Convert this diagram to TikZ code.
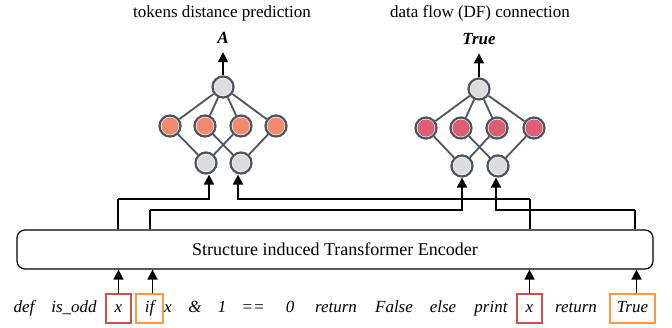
\documentclass[tikz,border=0pt]{standalone}
\usepackage{fontspec}
\setmainfont{Liberation Serif}
\usetikzlibrary{arrows.meta}
\definecolor{edgegray}{HTML}{4A5560}
\definecolor{nodegray}{HTML}{DCDCDC}
\definecolor{nodeorange}{HTML}{F28B6E}
\definecolor{nodered}{HTML}{DE5D70}
\definecolor{boxred}{HTML}{C0564D}
\definecolor{boxorange}{HTML}{F79A4A}
\tikzset{
  netnode/.style={circle, draw=edgegray, line width=2.2pt, minimum size=21pt, inner sep=0pt, fill=white},
  graynode/.style={netnode, path picture={\fill[nodegray] (path picture bounding box.center) circle (8.6pt);}},
  orangenode/.style={netnode, path picture={\fill[nodeorange] (path picture bounding box.center) circle (8.6pt);}},
  rednode/.style={netnode, path picture={\fill[nodered] (path picture bounding box.center) circle (8.6pt);}},
  netedge/.style={draw=edgegray, line width=1.8pt},
  arr/.style={-{Triangle[length=10pt,width=10pt]}, line width=1.6pt, black},
  conn/.style={line width=1.4pt, black},
  tok/.style={font=\itshape\fontsize{17}{20}\selectfont, text height=12pt, text depth=4pt, inner sep=0pt, anchor=center},
  tokred/.style={tok, draw=boxred, line width=1.6pt, minimum width=25pt, minimum height=29pt},
  tokorange/.style={tok, draw=boxorange, line width=1.6pt, minimum height=29pt},
  title/.style={font=\fontsize{17}{20}\selectfont, anchor=base},
  outlbl/.style={font=\bfseries\itshape\fontsize{17}{20}\selectfont, anchor=base, inner sep=1pt}
}
\begin{document}
\begin{tikzpicture}[x=1pt,y=-1pt]
\useasboundingbox (0,0) rectangle (672,327);

% titles
\node[title] (t1) at (222,17.5) {tokens distance prediction};
\node[title] (t2) at (480,17.5) {data flow (DF) connection};

% left network
\node[graynode] (lt) at (223,87) {};
\node[orangenode] (lm1) at (170,126) {};
\node[orangenode] (lm2) at (205,126) {};
\node[orangenode] (lm3) at (241,126) {};
\node[orangenode] (lm4) at (276,126) {};
\node[graynode] (lb1) at (206,163) {};
\node[graynode] (lb2) at (241,163) {};
\foreach \m in {lm1,lm2,lm3,lm4} \draw[netedge] (lt) -- (\m);
\draw[netedge] (lb1) -- (lm1);
\draw[netedge] (lb1) -- (lm3);
\draw[netedge] (lb2) -- (lm2);
\draw[netedge] (lb2) -- (lm4);

% right network
\node[graynode] (rt) at (479,89) {};
\node[rednode] (rm1) at (426,128) {};
\node[rednode] (rm2) at (461,128) {};
\node[rednode] (rm3) at (497,128) {};
\node[rednode] (rm4) at (534,128) {};
\node[graynode] (rb1) at (462,166) {};
\node[graynode] (rb2) at (498,166) {};
\foreach \m in {rm1,rm2,rm3,rm4} \draw[netedge] (rt) -- (\m);
\draw[netedge] (rb1) -- (rm1);
\draw[netedge] (rb1) -- (rm3);
\draw[netedge] (rb2) -- (rm2);
\draw[netedge] (rb2) -- (rm4);

% outputs
\node[outlbl] (la) at (223,43) {A};
\node[outlbl] (ra) at (479,44) {True};
\draw[arr] (lt.north) -- ([yshift=-8pt]la.south);
\draw[arr] (rt.north) -- ([yshift=-8pt]ra.south);

% encoder
\node[draw, line width=1.2pt, rounded corners=8pt, minimum width=636pt, minimum height=39pt,
      font=\fontsize{18}{21}\selectfont] (enc) at (335,249.5) {Structure induced Transformer Encoder};

% tokens
\node[tok] (w1) at (24,308.5) {def};
\node[tok] (w2) at (74,308.5) {is\_odd};
\node[tokred] (x1) at (118.5,308.5) {x};
\node[tokorange, minimum width=27pt] (if1) at (149.5,308.5) {if};
\node[tok] (w5) at (168,308.5) {x};
\node[tok] (w6) at (195,308.5) {\&};
\node[tok] (w7) at (222,308.5) {1};
\node[tok] (w8) at (253,308.5) {==};
\node[tok] (w9) at (290,308.5) {0};
\node[tok] (w10) at (336,308.5) {return};
\node[tok] (w11) at (394,308.5) {False};
\node[tok] (w12) at (443,308.5) {else};
\node[tok] (w13) at (491,308.5) {print};
\node[tokred] (x2) at (529.5,308.5) {x};
\node[tok] (w15) at (576,308.5) {return};
\node[tokorange, minimum width=45pt] (tr) at (632.5,308.5) {True};

% inputs into encoder
\draw[arr] (x1.north) -- (x1.north |- enc.south);
\draw[arr] ([xshift=3pt]if1.north) -- ([xshift=3pt]if1.north |- enc.south);
\draw[arr] (x2.north) -- (x2.north |- enc.south);
\draw[arr] ([xshift=4pt]tr.north) -- ([xshift=4pt]tr.north |- enc.south);

% encoder outputs to networks
\coordinate (o1) at (118,199);
\coordinate (o2) at (150,210);
\coordinate (o3) at (530,199);
\coordinate (o4) at (635,210);
\draw[conn] (o1 |- enc.north) -- (o1);
\draw[arr] (o1) -| ([xshift=3pt]lb1.south);
\draw[conn] (o2 |- enc.north) -- (o2);
\draw[arr] (o2) -| (rb1.south);
\draw[conn] (o3 |- enc.north) -- (o3);
\draw[arr] (o3) -| ([xshift=-3pt]lb2.south);
\draw[conn] (o4 |- enc.north) -- (o4);
\draw[arr] (o4) -| ([xshift=-2pt]rb2.south);
\end{tikzpicture}
\end{document}
